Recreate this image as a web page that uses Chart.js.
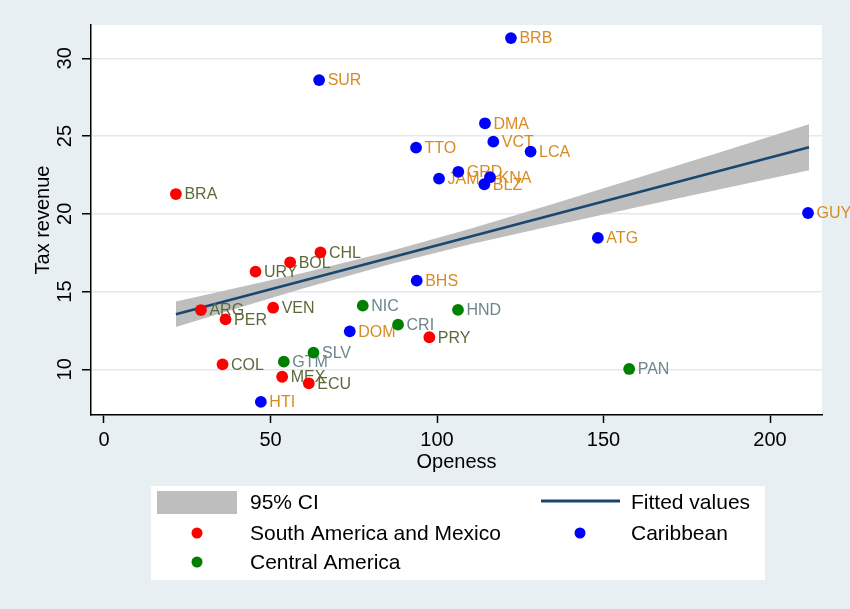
<!DOCTYPE html>
<html>
<head>
<meta charset="utf-8">
<script src="https://cdn.jsdelivr.net/npm/chart.js@4/dist/chart.umd.min.js"></script>
<style>
  html, body { margin: 0; padding: 0; background: #e8eff2; }
  #wrap { width: 850px; height: 609px; position: relative; }
</style>
</head>
<body>
<div id="wrap"><canvas id="c" width="850" height="609"></canvas></div>
<script>
// Tax revenue vs. trade openness, Latin America and the Caribbean

// South America and Mexico
const saCodes = ['BRA', 'ARG', 'PER', 'URY', 'BOL', 'CHL', 'VEN', 'COL', 'MEX', 'ECU', 'PRY'];
const saOpen  = [21.6, 29.1, 36.5, 45.5, 55.9, 65.0, 50.8, 35.6, 53.5, 61.5, 97.7];
const saTax   = [21.27, 13.81, 13.21, 16.28, 16.88, 17.52, 13.96, 10.32, 9.52, 9.10, 12.06];

// Caribbean
const cbCodes = ['BRB', 'SUR', 'DMA', 'VCT', 'LCA', 'TTO', 'GRD', 'JAM', 'KNA', 'BLZ', 'GUY', 'ATG', 'BHS', 'DOM', 'HTI'];
const cbOpen  = [122.2, 64.6, 114.4, 116.9, 128.1, 93.7, 106.4, 100.6, 115.9, 114.2, 211.4, 148.3, 93.9, 73.8, 47.1];
const cbTax   = [31.3, 28.6, 25.82, 24.64, 24.0, 24.25, 22.7, 22.26, 22.35, 21.9, 20.05, 18.45, 15.7, 12.44, 7.9];

// Central America
const caCodes = ['NIC', 'CRI', 'HND', 'SLV', 'GTM', 'PAN'];
const caOpen  = [77.7, 88.3, 106.3, 62.9, 54.0, 157.7];
const caTax   = [14.09, 12.87, 13.82, 11.07, 10.49, 10.02];

// Linear fit and its 95% confidence band
const fitX     = [21.6, 211.7];
const fitY     = [13.54, 24.28];
const ciX      = [21.6, 40, 60, 85, 110, 135, 160, 185, 211.7];
const ciUpper  = [14.36, 15.24, 16.21, 17.54, 19.04, 20.65, 22.30, 23.96, 25.76];
const ciLower  = [12.72, 13.92, 15.21, 16.70, 18.04, 19.25, 20.42, 21.58, 22.80];

// Axis ticks
const xTicks = [0, 50, 100, 150, 200];
const yTicks = [10, 15, 20, 25, 30];

const FONT = '"Liberation Sans", Arial, Helvetica, sans-serif';
Chart.defaults.font.family = FONT;

const pts = (xs, ys) => xs.map((x, i) => ({ x: x, y: ys[i] }));

const groups = [
  { label: 'South America and Mexico', codes: saCodes, x: saOpen, y: saTax, color: '#ff0000', text: '#5b6a3b' },
  { label: 'Caribbean',                codes: cbCodes, x: cbOpen, y: cbTax, color: '#0000ff', text: '#d98b22' },
  { label: 'Central America',          codes: caCodes, x: caOpen, y: caTax, color: '#008000', text: '#6d858c' }
];

const scatterSets = groups.map((g, i) => ({
  type: 'scatter',
  label: g.label,
  data: pts(g.x, g.y),
  codes: g.codes,
  labelColor: g.text,
  backgroundColor: g.color,
  borderColor: g.color,
  pointRadius: 5.9,
  pointBorderWidth: 0,
  order: i
}));

const fitSet = {
  type: 'line',
  label: 'Fitted values',
  data: pts(fitX, fitY),
  borderColor: '#1a476f',
  borderWidth: 2.6,
  pointRadius: 0,
  fill: false,
  order: 5
};

const ciUpperSet = {
  type: 'line',
  label: '95% CI',
  data: pts(ciX, ciUpper),
  borderWidth: 0,
  borderColor: 'rgba(0,0,0,0)',
  backgroundColor: '#bebebe',
  pointRadius: 0,
  fill: '+1',
  order: 6
};
const ciLowerSet = {
  type: 'line',
  label: '95% CI lower',
  data: pts(ciX, ciLower),
  borderWidth: 0,
  borderColor: 'rgba(0,0,0,0)',
  pointRadius: 0,
  fill: false,
  order: 7
};

// Backgrounds: light outer region, white plot region
const backdrop = {
  id: 'backdrop',
  beforeDraw(chart) {
    const { ctx, chartArea: a } = chart;
    ctx.save();
    ctx.fillStyle = '#e8eff2';
    ctx.fillRect(0, 0, chart.width, chart.height);
    ctx.fillStyle = '#ffffff';
    ctx.fillRect(a.left, a.top, a.right - a.left, a.bottom - a.top);
    ctx.restore();
  }
};

// Country codes to the right of each marker, drawn just before the markers
let labelsDone = false;
const pointLabels = {
  id: 'pointLabels',
  beforeDatasetsDraw() { labelsDone = false; },
  beforeDatasetDraw(chart, args) {
    const ds = chart.data.datasets[args.index];
    if (labelsDone || !ds.codes) return;
    labelsDone = true;
    const ctx = chart.ctx;
    ctx.save();
    ctx.font = '16px ' + FONT;
    ctx.textBaseline = 'middle';
    ctx.textAlign = 'left';
    chart.data.datasets.forEach((d, i) => {
      if (!d.codes) return;
      const meta = chart.getDatasetMeta(i);
      ctx.fillStyle = d.labelColor;
      meta.data.forEach((el, j) => {
        ctx.fillText(d.codes[j], el.x + 8.5, el.y + 1);
      });
    });
    ctx.restore();
  }
};

// Vertical tick labels on the y axis
const yTickLabels = {
  id: 'yTickLabels',
  afterDraw(chart) {
    const ctx = chart.ctx;
    const s = chart.scales.y;
    ctx.save();
    ctx.font = '20px ' + FONT;
    ctx.fillStyle = '#000';
    ctx.textAlign = 'center';
    ctx.textBaseline = 'middle';
    s.ticks.forEach(t => {
      const py = s.getPixelForValue(t.value);
      ctx.save();
      ctx.translate(65, py);
      ctx.rotate(-Math.PI / 2);
      ctx.fillText(String(t.value), 0, 0);
      ctx.restore();
    });
    ctx.restore();
  }
};

// Legend box below the plot
const legendBox = {
  id: 'legendBox',
  afterDraw(chart) {
    const ctx = chart.ctx;
    const ds = chart.data.datasets;
    const get = l => ds.find(d => d.label === l);
    ctx.save();
    ctx.fillStyle = '#ffffff';
    ctx.fillRect(151, 486, 614, 94);
    ctx.font = '21px ' + FONT;
    ctx.textBaseline = 'middle';
    ctx.textAlign = 'left';

    // 95% CI
    const ci = get('95% CI');
    ctx.fillStyle = ci.backgroundColor;
    ctx.fillRect(157, 491, 80, 23);
    ctx.fillStyle = '#000';
    ctx.fillText(ci.label, 250, 503);

    // Fitted values
    const fit = get('Fitted values');
    ctx.strokeStyle = fit.borderColor;
    ctx.lineWidth = 3;
    ctx.beginPath();
    ctx.moveTo(541, 501);
    ctx.lineTo(620, 501);
    ctx.stroke();
    ctx.fillStyle = '#000';
    ctx.fillText(fit.label, 631, 503);

    const dot = (x, y, c) => {
      ctx.fillStyle = c;
      ctx.beginPath();
      ctx.arc(x, y, 5.5, 0, Math.PI * 2);
      ctx.fill();
    };
    const sa = get('South America and Mexico');
    dot(197, 533, sa.backgroundColor);
    ctx.fillStyle = '#000';
    ctx.fillText(sa.label, 250, 534);

    const cb = get('Caribbean');
    dot(580, 533, cb.backgroundColor);
    ctx.fillStyle = '#000';
    ctx.fillText(cb.label, 631, 534);

    const ca = get('Central America');
    dot(197, 562, ca.backgroundColor);
    ctx.fillStyle = '#000';
    ctx.fillText(ca.label, 250, 563);
    ctx.restore();
  }
};

new Chart(document.getElementById('c'), {
  type: 'scatter',
  data: { datasets: [...scatterSets, fitSet, ciUpperSet, ciLowerSet] },
  options: {
    responsive: false,
    animation: false,
    devicePixelRatio: 1,
    events: [],
    layout: { padding: { top: 25, right: 28, bottom: 124, left: 0 } },
    plugins: {
      legend: { display: false },
      tooltip: { enabled: false },
      title: { display: false }
    },
    scales: {
      x: {
        type: 'linear',
        position: 'bottom',
        min: -3.9,
        max: 215.6,
        afterBuildTicks: s => { s.ticks = xTicks.map(v => ({ value: v })); },
        afterFit: s => { s.height = 70; },
        grid: {
          drawOnChartArea: false,
          drawTicks: true,
          tickLength: 8,
          tickColor: '#000',
          tickWidth: 1.5
        },
        border: { display: true, color: '#000', width: 1.5 },
        ticks: { font: { size: 20 }, color: '#000', padding: 5, maxRotation: 0 },
        title: { display: true, text: 'Openess', font: { size: 20 }, color: '#000', padding: { top: 0, bottom: 11 } }
      },
      y: {
        type: 'linear',
        position: 'left',
        min: 7.06,
        max: 32.14,
        afterBuildTicks: s => { s.ticks = yTicks.map(v => ({ value: v })); },
        afterFit: s => { s.width = 91; },
        grid: {
          drawOnChartArea: true,
          color: '#e3eaee',
          lineWidth: 1.5,
          drawTicks: true,
          tickLength: 9,
          tickColor: '#000',
          tickWidth: 1.5
        },
        border: { display: true, color: '#000', width: 1.5 },
        ticks: { display: false },
        title: { display: true, text: 'Tax revenue', font: { size: 20 }, color: '#000', padding: { top: 31, bottom: 0 } }
      }
    }
  },
  plugins: [backdrop, pointLabels, yTickLabels, legendBox]
});
</script>
</body>
</html>
